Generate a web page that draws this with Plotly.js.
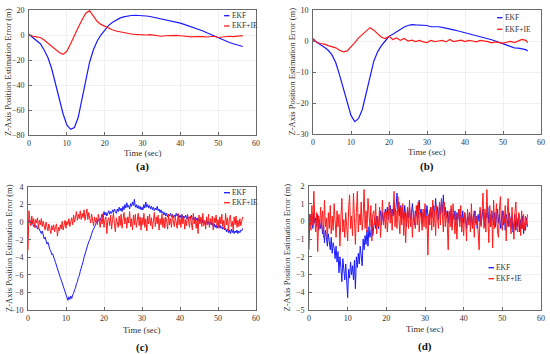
<!DOCTYPE html>
<html>
<head>
<meta charset="utf-8">
<script src="https://cdn.plot.ly/plotly-3.0.1.min.js"></script>
<style>html,body{margin:0;padding:0;background:#fff;}#chart{width:550px;height:354px;}</style>
</head>
<body>
<div id="chart"></div>
<script>
// ---- Data ----
// (a) sampled every 1 s, last point at 56.5 s
const timeA = [0,1,2,3,4,5,6,7,8,9,10,11,12,13,14,15,16,17,18,19,20,21,22,23,24,25,26,27,28,29,30,31,32,33,34,35,36,37,38,39,40,41,42,43,44,45,46,47,48,49,50,51,52,53,54,55,56,56.5];
const ekfA = [0.5,-2,-4,-7,-12,-18,-27,-38,-51,-63,-72,-75.5,-74,-66,-52,-36,-22,-12,-5,0,4,7.5,10,12,13.5,14.5,15.2,15.6,15.8,15.8,15.6,15.2,14.8,14.2,13.5,12.5,12,11.5,11,10.2,9.5,8.5,7.5,6.5,5.5,4.5,3.2,1.8,0.5,-1,-2.5,-3.8,-5,-6,-7,-8,-8.8,-9.2];
const ekfieA = [0.5,-1,-1.5,-2,-4,-6.5,-9,-11.5,-14,-15.5,-13,-7,0,6,12,17.5,19.5,15,11,8.5,7,5.5,4.2,3.2,2.5,2,1.5,0.8,0.5,0.2,0.2,0,0.3,-0.2,-0.5,-1,-0.6,-0.4,-0.8,-0.3,-0.6,-1,-1.2,-1.5,-1.2,-1,-1.3,-1.6,-1.5,-1,-2,-1.5,-1.2,-1,-1.3,-1,-0.8,-0.5];

// (b) sampled every 1 s, last point at 56.5 s
const timeB = timeA;
const ekfB = [0.5,-0.5,-1.2,-2,-3,-4.5,-7,-11,-15.5,-20,-24,-26,-25,-22,-17,-11,-6.5,-3.5,-1.5,0,1.5,2.2,3,3.8,4.5,5,5.3,5.2,5.1,5.2,5,4.6,4.7,4.6,4.4,4.2,3.9,3.6,3.3,3,2.7,2.4,2.1,1.8,1.5,1.2,0.8,0.4,0,-0.4,-1,-1.4,-1.8,-2.2,-2.3,-2.5,-2.8,-3.2];
const ekfieB = [0.8,-0.5,-0.8,-1,-1.5,-1.8,-2.2,-3,-3.5,-3.2,-2,-0.5,1,2,3,4.3,3.5,2.5,1.2,0.8,1.5,0.5,1,0.2,0.8,0,0.3,-0.2,0.2,-0.3,-0.5,0.2,-0.2,0,0.2,-0.3,0.5,-0.2,0.1,0.3,-0.2,0.2,0,-0.3,0.2,0.1,-0.2,-0.6,-0.3,-0.5,-0.7,-0.4,-0.1,-0.5,0,0.5,0.2,-0.5];

// (c) sampled every 0.25 s from 0 to 56.5 s
const stepC = 0.25;
const ekfC = [
  0.3,0.0,0.2,-0.3,0.1,-0.2,-0.5,-0.3, -0.6,-0.4,-0.8,-0.6,-0.9,-1.1,-1.3,-1.0,
  -1.6,-1.9,-1.7,-2.2,-2.5,-2.3,-2.8,-3.1, -3.3,-3.7,-3.6,-4.1,-4.3,-4.6,-5.0,-5.3,
  -5.7,-5.9,-6.3,-6.6,-6.9,-7.3,-7.6,-7.9, -8.3,-8.6,-8.9,-8.5,-8.8,-8.4,-8.7,-8.3,
  -8.1,-7.7,-7.5,-7.0,-6.8,-6.3,-6.1,-5.6, -5.3,-4.8,-4.5,-4.0,-3.6,-3.2,-2.9,-2.5,
  -2.2,-2.0,-1.6,-1.4,-1.0,-0.8,-0.4,-0.3, 0.0,0.2,0.1,0.4,0.2,0.6,0.9,0.5,
  1.2,0.8,1.1,0.7,1.0,1.3,0.9,1.2, 1.0,1.4,1.1,1.5,1.2,1.0,1.5,1.2,
  1.7,1.3,1.6,1.2,1.8,1.4,2.0,1.6, 2.2,1.7,1.9,1.5,2.1,1.8,2.3,1.9,
  2.6,1.7,2.0,1.6,1.9,1.5,1.8,1.4, 1.7,1.4,2.0,1.6,2.3,1.7,2.0,1.6,
  1.9,1.5,1.8,1.4,1.7,1.3,1.6,1.4, 1.8,1.3,1.5,1.1,1.4,1.0,1.2,0.8,
  1.1,0.7,1.0,0.6,0.9,0.7,1.0,0.6, 0.9,0.5,0.8,0.6,1.0,0.7,0.9,0.5,
  0.8,0.5,0.9,0.4,0.7,0.5,0.8,0.4, 0.7,0.3,0.6,0.4,0.8,0.3,0.5,0.2,
  0.6,0.2,0.5,0.1,0.4,0.0,0.3,-0.1, 0.3,-0.2,0.1,-0.3,0.2,-0.2,0.1,-0.4,
  0.0,-0.3,-0.1,-0.5,-0.2,-0.6,-0.3,-0.7, -0.4,-0.6,-0.3,-0.7,-0.5,-0.8,-0.6,-0.9,
  -0.7,-1.1,-0.8,-1.2,-0.9,-1.3,-0.8,-1.2, -0.9,-1.3,-1.0,-1.2,-0.9,-1.3,-1.0,-1.2,
  -0.9,-1.0,-0.7];
const ekfieC = [
  -3.2,1.3,0.2,-0.4,0.7,-0.2,0.4,-0.6, 0.3,-0.1,0.5,-0.7,0.2,-0.3,0.4,-0.5,
  0.1,-0.3,-0.9,0.0,-0.5,-1.0,-0.2,-0.8, -1.3,-0.4,-0.9,-0.3,-1.1,-0.5,-0.2,-1.6,
  -0.6,-1.0,-0.3,-0.8,0.1,-0.9,-0.4,0.2, -0.7,0.1,-0.3,0.4,-0.5,0.2,0.5,-0.3,
  0.8,0.0,0.6,1.2,0.2,0.9,0.4,1.3, 0.3,1.0,0.5,1.4,0.2,0.8,1.5,0.3,
  1.1,0.4,-0.1,0.9,0.2,-0.4,0.6,0.0, 0.5,-0.3,0.9,0.1,-0.6,0.4,-0.2,1.0,
  -0.6,0.3,0.6,-1.3,0.2,0.5,-0.4,0.8, -0.8,0.3,1.0,-0.2,-1.1,0.5,0.1,-0.6,
  0.7,-0.4,0.9,-0.7,0.3,1.1,-0.2,0.5, -0.7,0.6,-0.1,1.2,-0.5,0.4,-0.9,0.8,
  -0.3,0.9,-0.6,0.3,1.0,-0.4,0.6,-0.9, 0.5,-0.3,1.0,-0.6,0.4,-1.0,0.7,-0.2,
  0.9,-0.4,0.5,-0.8,0.3,1.1,-0.5,0.6, -0.2,0.8,-0.9,0.4,-0.3,0.9,-0.6,0.5,
  -0.7,0.6,0.1,-0.8,0.9,-0.3,0.4,-0.6, 0.8,-0.2,-0.5,0.6,0.0,-0.7,1.0,-0.3,
  0.4,-0.6,0.8,-0.2,0.5,-0.8,0.3,-0.4, 0.9,-0.3,-0.6,0.7,0.1,-0.9,1.0,-0.2,
  0.5,-0.7,0.3,-1.3,0.8,-0.2,0.6,-0.5, 1.0,-0.4,0.2,-0.8,0.6,-0.3,0.9,-0.6,
  0.4,-0.2,0.7,-0.9,0.5,-0.1,0.8,-0.4, 0.3,-0.7,0.6,-0.2,0.9,-0.5,0.2,-0.8,
  1.0,-0.3,0.5,-1.0,0.4,0.8,-0.5,0.1, -0.9,0.6,-0.3,0.7,-0.6,0.2,-0.5,0.4,
  -0.4,0.3,0.6];

// (d) sampled every 0.25 s from 0 to 56.5 s
const stepD = 0.25;
const ekfD = [
  -0.5,0.4,-0.2,0.3,-0.4,0.5,-0.1,0.2, -0.3,0.4,-0.5,0.1,-0.4,-0.1,-0.7,-0.2,
  -1.2,-0.5,-0.9,-1.4,-0.7,-1.1,-1.6,-0.9, -1.8,-1.2,-1.5,-2.1,-1.4,-2.3,-1.7,-2.9,
  -2.0,-2.6,-3.4,-2.1,-2.8,-3.3,-2.4,-3.1, -4.3,-2.7,-3.2,-2.3,-3.0,-2.5,-3.3,-2.2,
  -3.8,-2.0,-2.6,-1.8,-2.4,-1.4,-2.0,-2.5, -1.0,-1.6,-0.8,-1.3,-0.5,-1.4,-0.3,-0.9,
  -0.6,0.1,-0.8,-0.2,0.2,-0.4,0.3,-0.1, -0.4,0.3,0.6,-0.2,0.5,0.0,0.4,0.7,
  0.2,0.8,0.1,0.6,0.9,0.2,0.7,0.3, 1.0,0.4,0.8,1.6,0.5,1.1,0.3,0.9,
  0.2,0.7,0.1,0.9,0.4,-0.3,0.6,0.2, 0.8,0.1,0.5,1.0,0.3,-0.2,0.6,0.3,
  0.9,0.2,1.2,0.4,0.7,-0.1,0.5,0.3, 0.7,0.2,0.9,0.4,-0.2,0.6,0.8,0.2,
  0.5,0.9,0.3,1.3,0.4,0.8,0.1,1.0, 0.4,1.2,0.5,1.5,0.3,0.8,0.2,0.6,
  -0.1,0.5,0.2,0.7,-0.3,0.4,0.1,0.6, -0.2,0.5,0.1,0.7,0.0,0.4,-0.3,0.6,
  -0.1,0.5,0.2,-0.4,0.3,0.0,0.5,-0.2, 0.4,-0.3,0.2,0.6,-0.1,0.3,-0.4,0.4,
  0.0,0.6,-0.2,0.3,0.7,0.1,-0.3,0.5, 0.2,0.8,-0.1,0.4,-0.3,0.6,0.1,-0.2,
  0.5,-0.3,0.3,0.7,-0.1,0.4,-0.4,0.2, 0.6,-0.2,0.3,-0.5,0.4,0.1,-0.3,0.5,
  0.2,-0.4,0.3,-0.6,0.1,0.4,-0.5,0.2, -0.3,0.4,-0.6,0.1,-0.4,0.3,-0.7,-0.1,
  -0.5,0.2,-0.3];
const ekfieD = [
  -1.6,0.4,-0.5,0.9,-0.2,1.7,0.1,-0.6, 0.5,-1.7,0.3,-0.4,0.8,-0.2,0.6,-0.9,
  1.2,-0.3,0.2,-1.0,0.5,-0.4,0.9,-0.7, 0.3,-0.5,1.0,-0.2,-0.9,0.6,-0.3,0.4,
  -1.4,0.2,1.3,-0.6,0.1,-0.9,0.5,-0.3, -1.1,0.7,1.5,-0.4,0.3,-0.8,1.6,0.2,
  -1.3,0.5,1.7,-0.6,0.4,-0.2,1.1,-0.5, 0.2,1.8,-0.4,0.6,-0.6,1.3,0.1,-0.3,
  0.9,-1.1,0.4,0.6,-0.2,1.0,-0.7,0.3, -0.3,0.8,-0.9,0.4,1.2,-0.2,0.5,-0.4,
  0.6,-0.6,0.2,1.1,-0.1,0.7,-0.5,0.4, 1.7,-0.3,0.6,-0.4,1.4,0.2,-0.7,0.8,
  -0.2,1.0,-0.8,0.5,-1.2,0.3,0.8,-0.4, 1.2,-0.3,0.4,-0.9,0.6,0.1,-0.4,0.9,
  -0.2,1.1,-0.6,0.5,0.2,-0.5,0.7,-0.3, 1.0,-0.4,0.3,-1.9,0.4,-0.2,0.8,-0.5,
  1.2,-0.3,0.6,-0.8,0.9,0.1,-0.4,1.1, -0.2,1.3,0.3,-0.6,1.1,-0.3,0.5,-0.1,
  -1.6,0.6,-0.3,0.9,-0.5,1.0,0.2,-0.7, 0.4,-1.0,0.3,0.7,-0.3,0.9,-0.6,0.2,
  -0.8,0.5,0.1,-1.1,0.7,-0.2,0.4,-0.6, 1.0,-0.4,0.3,-0.9,0.6,-0.2,0.3,-0.5,
  -1.6,0.8,-0.3,0.5,1.6,-0.4,0.7,-0.6, 1.8,0.2,-1.2,0.9,-0.3,0.6,-1.5,1.2,
  -0.4,0.3,1.0,-0.6,-0.9,0.7,1.4,-0.2, -0.5,0.6,-0.1,0.9,-1.1,0.4,1.3,-0.3,
  0.2,-0.7,0.8,-0.2,-1.0,0.5,1.1,-0.3, -0.6,0.5,0.2,-0.8,0.6,-0.4,0.4,-0.5,
  0.3,-0.2,0.4];

const seriesNames = ['EKF', 'EKF+IE'];
const xTitle = 'Time (sec)';
const yTitle = 'Z-Axis Position Estimation Error (m)';
const panelLabels = ['(a)', '(b)', '(c)', '(d)'];

// ---- Build ----
const FONT = 'Liberation Serif, Times New Roman, serif';
const BLUE = '#1a1aff';
const RED = '#ff1a1a';
const timesC = ekfC.map((_, i) => i * stepC);
const timesD = ekfD.map((_, i) => i * stepD);

function tr(x, y, name, color, k, w) {
  return {x: x, y: y, type: 'scatter', mode: 'lines', name: name, showlegend: false,
    line: {color: color, width: w}, xaxis: 'x' + (k === 1 ? '' : k), yaxis: 'y' + (k === 1 ? '' : k)};
}
const data = [
  tr(timeA, ekfA, seriesNames[0], BLUE, 1, 1.2),
  tr(timeA, ekfieA, seriesNames[1], RED, 1, 1.2),
  tr(timeB, ekfB, seriesNames[0], BLUE, 2, 1.2),
  tr(timeB, ekfieB, seriesNames[1], RED, 2, 1.2),
  tr(timesC, ekfC, seriesNames[0], BLUE, 3, 1),
  tr(timesC, ekfieC, seriesNames[1], RED, 3, 1),
  tr(timesD, ekfD, seriesNames[0], BLUE, 4, 1),
  tr(timesD, ekfieD, seriesNames[1], RED, 4, 1)
];

function xa(dom, anchor) {
  return {domain: dom, anchor: anchor, range: [0, 60], dtick: 10, showline: true, mirror: true,
    linecolor: '#6a6a6a', linewidth: 1, ticks: 'inside', ticklen: 3, tickcolor: '#6a6a6a',
    showgrid: true, gridcolor: '#e8e8e8', gridwidth: 0.6, zeroline: false,
    tickfont: {family: FONT, size: 8, color: '#333'}};
}
function ya(dom, anchor, range, dtick) {
  return {domain: dom, anchor: anchor, range: range, dtick: dtick, showline: true, mirror: true,
    linecolor: '#6a6a6a', linewidth: 1, ticks: 'inside', ticklen: 3, tickcolor: '#6a6a6a',
    showgrid: true, gridcolor: '#e8e8e8', gridwidth: 0.6, zeroline: false, ticklabelstandoff: 2,
    tickfont: {family: FONT, size: 8, color: '#333'}};
}
const W = 550, H = 354;
const px = v => v / W, py = v => 1 - v / H;
const panels = [
  {x0: 29, x1: 256, y0: 10, y1: 135},
  {x0: 313, x1: 541, y0: 10, y1: 134},
  {x0: 28, x1: 256, y0: 187, y1: 310},
  {x0: 309, x1: 541, y0: 186, y1: 310}
];
const layout = {
  width: W, height: H, margin: {l: 0, r: 0, t: 0, b: 0}, paper_bgcolor: '#fff', plot_bgcolor: '#fff',
  font: {family: FONT, color: '#333'}, showlegend: false,
  xaxis: xa([px(panels[0].x0), px(panels[0].x1)], 'y'),
  yaxis: ya([py(panels[0].y1), py(panels[0].y0)], 'x', [-80, 20], 20),
  xaxis2: xa([px(panels[1].x0), px(panels[1].x1)], 'y2'),
  yaxis2: ya([py(panels[1].y1), py(panels[1].y0)], 'x2', [-30, 10], 10),
  xaxis3: xa([px(panels[2].x0), px(panels[2].x1)], 'y3'),
  yaxis3: ya([py(panels[2].y1), py(panels[2].y0)], 'x3', [-10, 4], 2),
  xaxis4: xa([px(panels[3].x0), px(panels[3].x1)], 'y4'),
  yaxis4: ya([py(panels[3].y1), py(panels[3].y0)], 'x4', [-5, 2], 1),
  annotations: [], shapes: []
};
const xTitleY = [153, 152, 330, 329];
const labelY = [166.5, 166.5, 347, 346.5];
const yTitleX = [8.5, 291.5, 8.5, 286.5];
// legend placement per panel: line start x, line end x, y of first and second entry (pixels)
const legendPos = [
  {x0: 224, x1: 229.5, y: [15.7, 26]},
  {x0: 497, x1: 502.5, y: [17.7, 29.3]},
  {x0: 224, x1: 230, y: [192.7, 202.7]},
  {x0: 488.5, x1: 494, y: [267.7, 278.7]}
];
const legendColors = [BLUE, RED];
panels.forEach((p, i) => {
  const cx = (p.x0 + p.x1) / 2, cy = (p.y0 + p.y1) / 2;
  layout.annotations.push({text: xTitle, xref: 'paper', yref: 'paper', x: px(cx), y: py(xTitleY[i]),
    xanchor: 'center', yanchor: 'middle', showarrow: false, font: {family: FONT, size: 8.8, color: '#333'}});
  layout.annotations.push({text: '<b>' + panelLabels[i] + '</b>', xref: 'paper', yref: 'paper', x: px(cx), y: py(labelY[i]),
    xanchor: 'center', yanchor: 'middle', showarrow: false, font: {family: FONT, size: 11, color: '#111'}});
  layout.annotations.push({text: yTitle, xref: 'paper', yref: 'paper', x: px(yTitleX[i]), y: py(cy),
    xanchor: 'center', yanchor: 'middle', textangle: -90, showarrow: false, font: {family: FONT, size: 8.5, color: '#333'}});
  const lg = legendPos[i];
  seriesNames.forEach((nm, j) => {
    layout.shapes.push({type: 'line', xref: 'paper', yref: 'paper', x0: px(lg.x0), x1: px(lg.x1),
      y0: py(lg.y[j]), y1: py(lg.y[j]), line: {color: legendColors[j], width: 1.3}});
    layout.annotations.push({text: nm, xref: 'paper', yref: 'paper', x: px(lg.x1 + 0.3), y: py(lg.y[j]),
      xanchor: 'left', yanchor: 'middle', showarrow: false, font: {family: FONT, size: 7.5, color: '#333'}});
  });
});
Plotly.newPlot('chart', data, layout, {staticPlot: true, displayModeBar: false});
</script>
</body>
</html>
